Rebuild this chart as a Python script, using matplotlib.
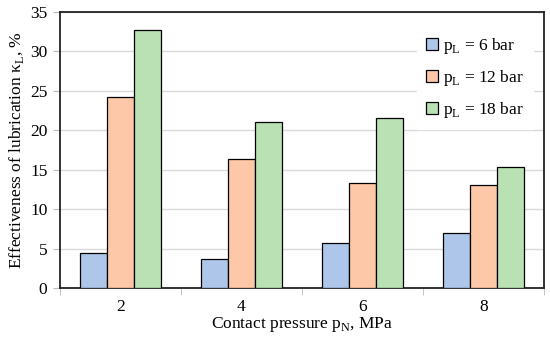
import matplotlib
matplotlib.use("Agg")
import matplotlib.pyplot as plt
import numpy as np

pressures = ["2", "4", "6", "8"]
kappa_6bar = [4.5, 3.7, 5.7, 7.0]
kappa_12bar = [24.2, 16.3, 13.3, 13.0]
kappa_18bar = [32.7, 21.0, 21.6, 15.4]
series_labels = ["p$_\\mathregular{L}$ = 6 bar", "p$_\\mathregular{L}$ = 12 bar",
                 "p$_\\mathregular{L}$ = 18 bar"]
colors = ["#aec6e9", "#fdc8a8", "#b9e1b3"]

plt.rcParams["font.family"] = "Liberation Serif"
plt.rcParams["mathtext.fontset"] = "custom"
plt.rcParams["mathtext.rm"] = "Liberation Serif"

fig = plt.figure(figsize=(5.5, 3.5), dpi=100)
ax = fig.add_axes([0.109, 0.177, 0.880, 0.789])

x = np.arange(len(pressures))
w = 0.222
for i, (vals, lab, c) in enumerate(zip([kappa_6bar, kappa_12bar, kappa_18bar], series_labels, colors)):
    ax.bar(x + (i - 1) * w, vals, w, color=c, edgecolor="black", linewidth=0.9, label=lab, zorder=3)

ax.set_xlim(-0.5, len(pressures) - 0.5)
ax.set_ylim(0, 35)
ax.set_yticks(np.arange(0, 36, 5))
ax.set_xticks(x)
ax.set_xticklabels(pressures)
ax.set_xticks(np.arange(-0.5, len(pressures), 1), minor=True)
ax.tick_params(axis="x", which="major", length=0, labelsize=12.5, pad=8)
ax.tick_params(axis="x", which="minor", length=5, color="#bbbbbb", direction="out")
ax.tick_params(axis="y", length=5, color="#bbbbbb", labelsize=12.5, pad=4)
ax.grid(axis="y", color="#d9d9d9", linewidth=1, zorder=0)
for s in ax.spines.values():
    s.set_linewidth(1.3)
    s.set_color("#222222")

ax.set_xlabel("Contact pressure p$_\\mathregular{N}$, MPa", fontsize=12.5, labelpad=0)
ax.set_ylabel("Effectiveness of lubrication \u03ba$_\\mathregular{L}$, %", fontsize=12.5, labelpad=3)

leg = ax.legend(loc="upper right", bbox_to_anchor=(0.995, 0.975), frameon=True, fontsize=12.5,
                handlelength=0.7, handleheight=0.7, handletextpad=0.3, labelspacing=0.7,
                borderpad=0.5, fancybox=False)
leg.get_frame().set_edgecolor("white")
leg.get_frame().set_alpha(1)

fig.savefig("out.png", dpi=100)
